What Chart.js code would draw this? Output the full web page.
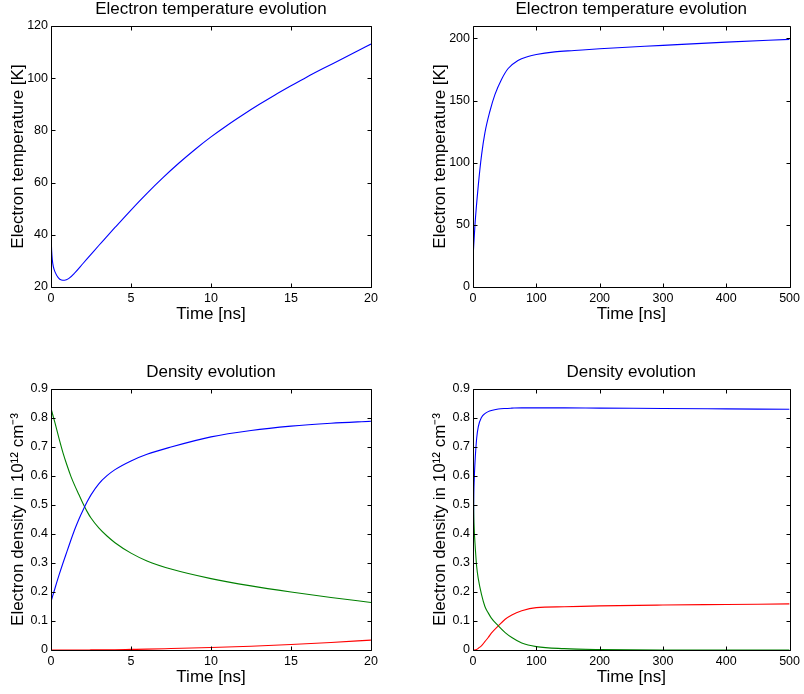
<!DOCTYPE html>
<html>
<head>
<meta charset="utf-8">
<script src="https://cdn.jsdelivr.net/npm/chart.js@4.4.0/dist/chart.umd.min.js"></script>
<style>
  html, body { margin: 0; padding: 0; background: #fff; overflow: hidden; }
  canvas { position: absolute; }
</style>
</head>
<body>
<canvas id="tempShort" width="402" height="331" style="left:0;top:0"></canvas>
<canvas id="tempLong" width="382" height="331" style="left:422px;top:0"></canvas>
<canvas id="densShort" width="402" height="331" style="left:0;top:363px"></canvas>
<canvas id="densLong" width="382" height="331" style="left:422px;top:363px"></canvas>
<script>
// electron temperature, first 20 ns
const tempShortTime = [0, 0.04, 0.08, 0.15, 0.25, 0.45, 0.65, 0.85, 1.1, 1.5, 2, 2.5, 3, 3.5, 4, 5, 6, 7, 8, 9, 10, 11, 12, 13, 14, 15, 16, 17, 18, 19, 20];
const tempShortK = [40, 34, 30.5, 27.7, 25.8, 23.6, 22.7, 22.6, 23.2, 25.5, 29.0, 32.5, 36.0, 39.4, 42.8, 49.5, 55.9, 61.9, 67.5, 72.7, 77.5, 81.9, 86.0, 89.9, 93.6, 97.1, 100.5, 103.7, 106.8, 109.9, 113.1];

// electron temperature, up to 500 ns
const tempLongTime = [0, 3.1, 8.4, 13.6, 18.8, 26.7, 34.6, 45, 55.5, 71, 87, 100, 129, 160, 200, 300, 400, 500];
const tempLongK = [23.1, 50, 82, 106.5, 124, 141.4, 154.8, 167, 175.8, 182.3, 185.5, 187.1, 189.2, 190.3, 191.7, 194.4, 197, 199.2];

// densities, first 20 ns
const densShortTime = [0, 0.25, 0.5, 0.75, 1, 1.25, 1.5, 1.75, 2, 2.25, 2.5, 3, 3.5, 4, 5, 6, 7.5, 10, 12.5, 15, 17.5, 20];
const densShortBlue = [0.167, 0.213, 0.258, 0.3, 0.34, 0.38, 0.418, 0.452, 0.482, 0.51, 0.535, 0.574, 0.601, 0.622, 0.652, 0.675, 0.7, 0.735, 0.757, 0.772, 0.782, 0.789];
const densShortGreen = [0.833, 0.783, 0.73, 0.68, 0.637, 0.598, 0.565, 0.535, 0.505, 0.478, 0.455, 0.42, 0.393, 0.37, 0.334, 0.307, 0.279, 0.246, 0.221, 0.2, 0.181, 0.164];
const densShortRed = [0, 0, 0, 0, 0, 0, 0, 0, 0, 0, 0.0003, 0.0005, 0.0007, 0.001, 0.002, 0.003, 0.005, 0.0085, 0.013, 0.019, 0.026, 0.034];

// densities, up to 500 ns
const densLongTime = [0, 1, 2, 3.1, 5.8, 8.4, 13.6, 18.8, 24, 29, 40, 50.8, 61.3, 77, 100, 144, 200, 300, 400, 500];
const densLongBlue = [0.17, 0.5, 0.59, 0.645, 0.73, 0.77, 0.803, 0.815, 0.822, 0.826, 0.831, 0.833, 0.834, 0.835, 0.835, 0.835, 0.834, 0.833, 0.8315, 0.830];
const densLongGreen = [0.83, 0.505, 0.415, 0.37, 0.288, 0.245, 0.19, 0.15, 0.128, 0.11, 0.083, 0.06, 0.043, 0.024, 0.0115, 0.0046, 0.0015, 0, 0, 0];
const densLongRed = [0, 0, 0, 0.0005, 0.002, 0.006, 0.015, 0.029, 0.043, 0.058, 0.083, 0.106, 0.121, 0.135, 0.146, 0.149, 0.152, 0.155, 0.157, 0.159];

Chart.defaults.font.family = '"Liberation Sans", Arial, Helvetica, sans-serif';
Chart.defaults.color = '#000';

const BLUE = '#0000ff', GREEN = '#008000', RED = '#ff0000';

// box round the axes with ticks pointing inwards, matlab style
const boxPlugin = {
  id: 'box',
  afterDraw(chart) {
    const { ctx, chartArea: a, scales: { x, y } } = chart;
    const L = Math.round(a.left) + 0.5, R = Math.round(a.right) + 0.5;
    const T = Math.round(a.top) + 0.5, B = Math.round(a.bottom) + 0.5;
    ctx.save();
    ctx.strokeStyle = '#000';
    ctx.lineWidth = 1;
    ctx.beginPath();
    x.ticks.forEach(t => {
      const px = Math.round(x.getPixelForValue(t.value)) + 0.5;
      ctx.moveTo(px, B); ctx.lineTo(px, B - 4);
      ctx.moveTo(px, T); ctx.lineTo(px, T + 4);
    });
    y.ticks.forEach(t => {
      const py = Math.round(y.getPixelForValue(t.value)) + 0.5;
      ctx.moveTo(L, py); ctx.lineTo(L + 4, py);
      ctx.moveTo(R, py); ctx.lineTo(R - 4, py);
    });
    ctx.rect(L, T, R - L, B - T);
    ctx.stroke();
    ctx.restore();
  }
};

function series(times, values, color) {
  return {
    data: times.map((t, i) => ({ x: t, y: values[i] })),
    borderColor: color,
    borderWidth: 1.1,
    pointRadius: 0,
    fill: false,
    cubicInterpolationMode: 'monotone'
  };
}

function makeChart(id, datasets, title, yTitle, xMax, xStep, yMin, yMax, yStep, padRight) {
  return new Chart(document.getElementById(id), {
    type: 'line',
    data: { datasets },
    options: {
      responsive: false,
      animation: false,
      layout: { padding: { left: 0, right: padRight, top: 0, bottom: 0 } },
      plugins: {
        legend: { display: false },
        tooltip: { enabled: false },
        title: {
          display: true,
          fullSize: false,
          text: title,
          font: { size: 17, weight: 'normal', lineHeight: 1 },
          padding: { top: 1, bottom: 8 }
        }
      },
      scales: {
        x: {
          type: 'linear',
          min: 0, max: xMax,
          grid: { display: false, drawTicks: false },
          border: { display: false },
          ticks: { stepSize: xStep, padding: 4, maxRotation: 0, font: { size: 12.5 } },
          title: { display: true, text: 'Time [ns]', font: { size: 17 }, padding: { top: 0, bottom: 6 } },
          afterFit(s) { s.height = 44; }
        },
        y: {
          min: yMin, max: yMax,
          grid: { display: false, drawTicks: false },
          border: { display: false },
          ticks: {
            stepSize: yStep, padding: 3, includeBounds: false, font: { size: 12.5 },
            callback: v => +v.toFixed(1)
          },
          title: { display: true, text: yTitle, font: { size: 17 }, padding: { top: 8, bottom: 0 } },
          afterFit(s) { s.width = 51; }
        }
      }
    },
    plugins: [boxPlugin]
  });
}

makeChart('tempShort', [series(tempShortTime, tempShortK, BLUE)],
  'Electron temperature evolution', 'Electron temperature [K]', 20, 5, 20, 120, 20, 31);

makeChart('tempLong', [series(tempLongTime, tempLongK, BLUE)],
  'Electron temperature evolution', 'Electron temperature [K]', 500, 100, 0, 210, 50, 11);

makeChart('densShort', [
    series(densShortTime, densShortBlue, BLUE),
    series(densShortTime, densShortGreen, GREEN),
    series(densShortTime, densShortRed, RED)
  ],
  'Density evolution', 'Electron density in 10¹² cm⁻³', 20, 5, 0, 0.9, 0.1, 31);

makeChart('densLong', [
    series(densLongTime, densLongBlue, BLUE),
    series(densLongTime, densLongGreen, GREEN),
    series(densLongTime, densLongRed, RED)
  ],
  'Density evolution', 'Electron density in 10¹² cm⁻³', 500, 100, 0, 0.9, 0.1, 11);
</script>
</body>
</html>
